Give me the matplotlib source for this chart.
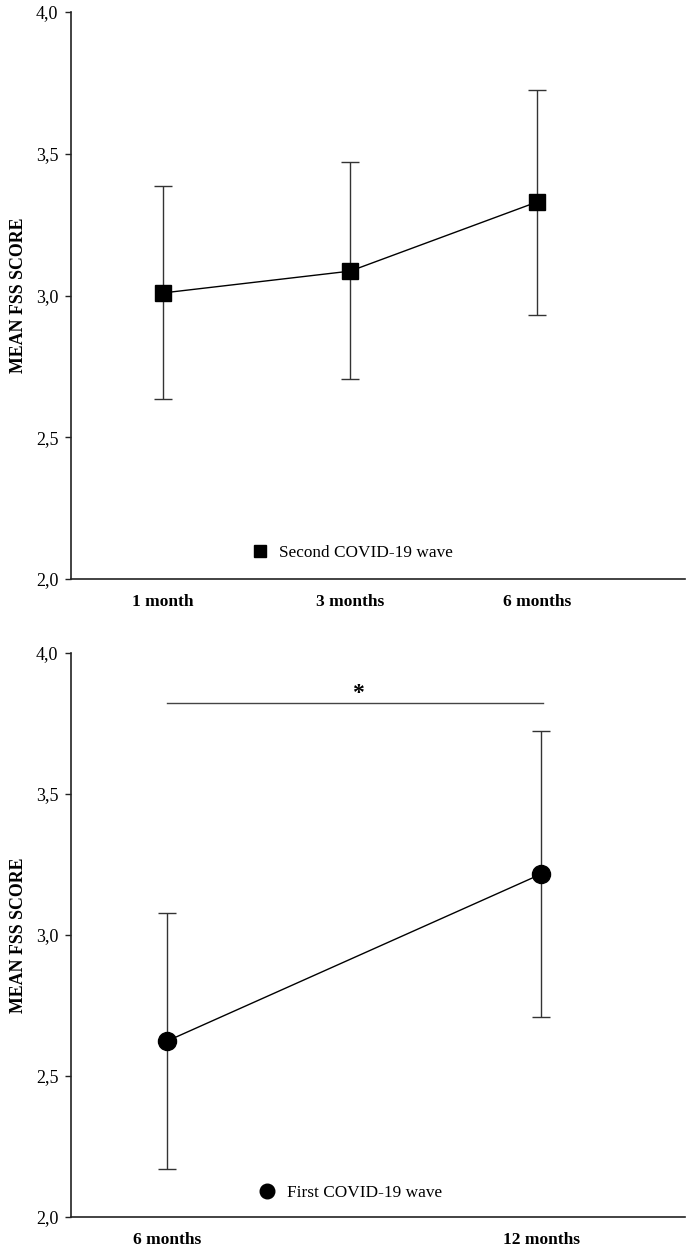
import matplotlib
matplotlib.use("Agg")
import matplotlib.pyplot as plt
from matplotlib.lines import Line2D

plt.rcParams['font.family'] = ['Liberation Serif', 'DejaVu Serif']

# ---- data ----
top_labels = ["1 month", "3 months", "6 months"]
top_mean = [3.009, 3.086, 3.330]
top_upper = [3.386, 3.470, 3.725]
top_lower = [2.635, 2.705, 2.931]

bot_labels = ["6 months", "12 months"]
bot_mean = [2.624, 3.216]
bot_upper = [3.078, 3.723]
bot_lower = [2.170, 2.709]

y_ticks = [2.0, 2.5, 3.0, 3.5, 4.0]
y_ticklabels = ["2,0", "2,5", "3,0", "3,5", "4,0"]
sig_level = 3.823
sig_text = "*"

fig = plt.figure(figsize=(6.88, 12.52), dpi=100)
ax1 = fig.add_axes([71/688, 1-579/1252, 614/688, 567/1252])
ax2 = fig.add_axes([71/688, 1-1217/1252, 614/688, 564/1252])

def style(ax, xpos, labels, xlim):
    ax.set_ylim(2.0, 4.0)
    ax.set_xlim(*xlim)
    ax.set_yticks(y_ticks)
    ax.set_yticklabels(y_ticklabels, fontsize=13)
    ax.set_xticks(xpos)
    ax.set_xticklabels(labels, fontsize=12.5, fontweight='bold')
    ax.tick_params(axis='x', length=0, pad=11)
    ax.tick_params(axis='y', length=4, width=1.0, pad=5, color='#222222')
    for s in ['top', 'right']:
        ax.spines[s].set_visible(False)
    for s in ['left', 'bottom']:
        ax.spines[s].set_linewidth(1.2)
        ax.spines[s].set_color('#222222')
    ax.set_ylabel("MEAN FSS SCORE", fontsize=12.9, fontweight='bold')
    ax.yaxis.set_label_coords(-0.072, 0.5)

# top panel
x1 = list(range(1, len(top_labels) + 1))
err1 = [[m - l for m, l in zip(top_mean, top_lower)],
        [u - m for m, u in zip(top_mean, top_upper)]]
ax1.errorbar(x1, top_mean, yerr=err1, fmt='none', ecolor='#333333',
             elinewidth=1.0, capsize=6.5, capthick=1.0, zorder=2)
ax1.plot(x1, top_mean, color='black', lw=1.0, marker='s', markersize=11.5,
         markerfacecolor='black', markeredgecolor='black', zorder=3)
style(ax1, x1, top_labels, (0.508, 3.79))
h1 = Line2D([], [], ls='none', marker='s', markersize=8.5, color='black')
ax1.legend([h1], ["Second COVID-19 wave"], loc='center left',
           bbox_to_anchor=(0.293, 0.0459), frameon=False, fontsize=12.4,
           borderpad=0, borderaxespad=0, handlelength=1.0, handletextpad=0.65)

# bottom panel
x2 = list(range(len(bot_labels)))
err2 = [[m - l for m, l in zip(bot_mean, bot_lower)],
        [u - m for m, u in zip(bot_mean, bot_upper)]]
ax2.errorbar(x2, bot_mean, yerr=err2, fmt='none', ecolor='#333333',
             elinewidth=1.0, capsize=6.5, capthick=1.0, zorder=2)
ax2.plot(x2, bot_mean, color='black', lw=1.0, marker='o', markersize=13,
         markerfacecolor='black', markeredgecolor='black', zorder=3)
style(ax2, x2, bot_labels, (-0.257, 1.385))
ax2.plot([x2[0], x2[-1] + 0.005], [sig_level, sig_level], color='#444444', lw=1.0)
ax2.text((x2[0] + x2[-1]) / 2 + 0.01, sig_level - 0.005, sig_text, ha='center', va='bottom',
         fontsize=17, fontweight='bold')
h2 = Line2D([], [], ls='none', marker='o', markersize=10.5, color='black')
ax2.legend([h2], ["First COVID-19 wave"], loc='center left',
           bbox_to_anchor=(0.306, 0.0426), frameon=False, fontsize=12.4,
           borderpad=0, borderaxespad=0, handlelength=1.0, handletextpad=0.65)

fig.savefig("out.png", dpi=100)
